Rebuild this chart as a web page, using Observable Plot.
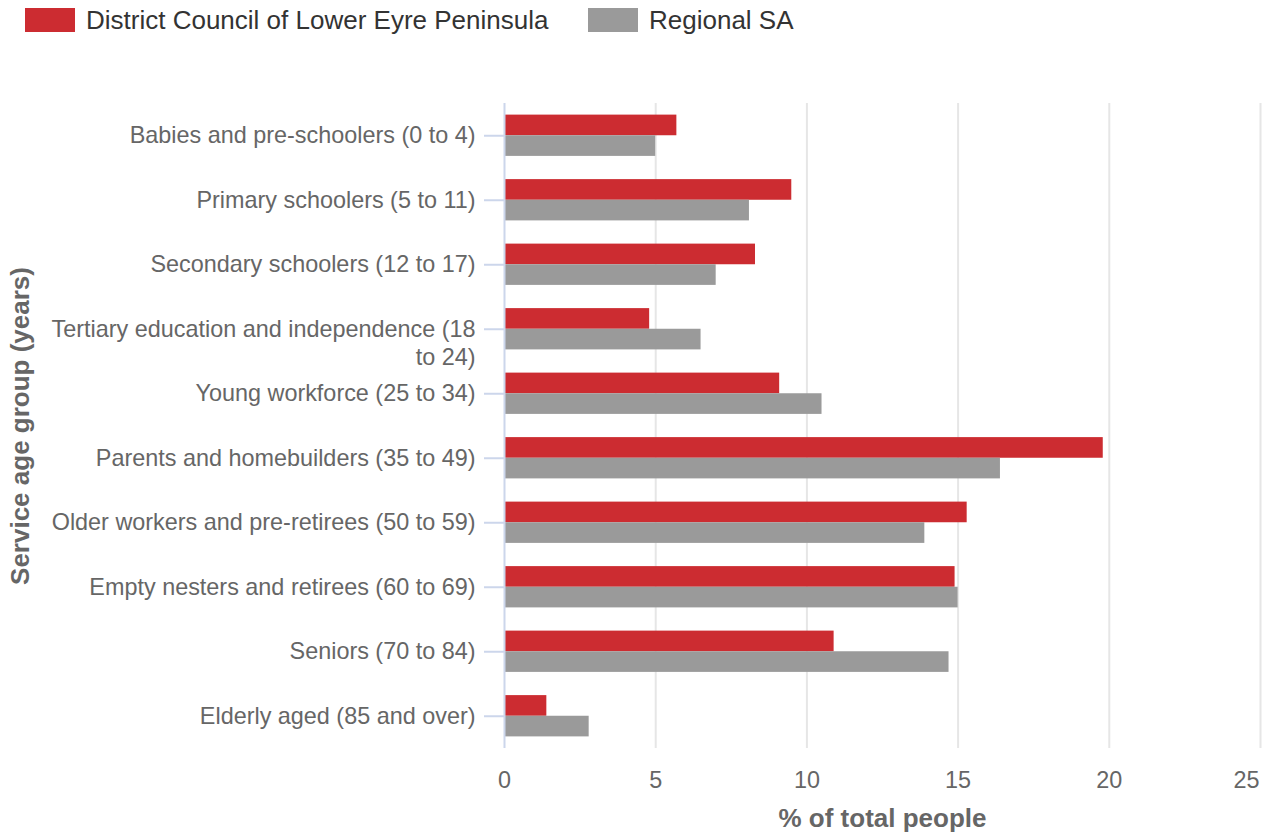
<!DOCTYPE html>
<html>
<head>
<meta charset="utf-8">
<script src="https://cdn.jsdelivr.net/npm/d3@7"></script>
<script src="https://cdn.jsdelivr.net/npm/@observablehq/plot@0.6"></script>
<style>
  html, body { margin: 0; padding: 0; background: #fff; }
  body { width: 1270px; height: 836px; overflow: hidden; font-family: "Liberation Sans", Arial, sans-serif; }
  #legend { position: relative; height: 45px; }
  .item { position: absolute; top: 0; display: flex; align-items: center; height: 40px; font-size: 26px; color: #333; }
  .swatch { width: 50px; height: 24px; margin-right: 11px; }
  #chart svg { display: block; }
</style>
</head>
<body>
<div id="legend"></div>
<div id="chart"></div>
<script>
const categories = [
  "Babies and pre-schoolers (0 to 4)",
  "Primary schoolers (5 to 11)",
  "Secondary schoolers (12 to 17)",
  "Tertiary education and independence (18 to 24)",
  "Young workforce (25 to 34)",
  "Parents and homebuilders (35 to 49)",
  "Older workers and pre-retirees (50 to 59)",
  "Empty nesters and retirees (60 to 69)",
  "Seniors (70 to 84)",
  "Elderly aged (85 and over)"
];
const seriesNames = ["District Council of Lower Eyre Peninsula", "Regional SA"];
const district = [5.7, 9.5, 8.3, 4.8, 9.1, 19.8, 15.3, 14.9, 10.9, 1.4];
const regional = [5.0, 8.1, 7.0, 6.5, 10.5, 16.4, 13.9, 15.0, 14.7, 2.8];
const xTicks = [0, 5, 10, 15, 20, 25];
const seriesColors = ["#cc2c31", "#9a9a9a"];
const xTitle = "% of total people";
const yTitle = "Service age group (years)";

// legend
const legend = document.getElementById("legend");
const legendLeft = [25, 588];
seriesNames.forEach((name, i) => {
  const item = document.createElement("div");
  item.className = "item";
  item.style.left = legendLeft[i] + "px";
  const sw = document.createElement("div");
  sw.className = "swatch";
  sw.style.background = seriesColors[i];
  const label = document.createElement("span");
  label.textContent = name;
  item.appendChild(sw);
  item.appendChild(label);
  legend.appendChild(item);
});

const rows = categories.map((c, i) => ({cat: c, d: district[i], r: regional[i]}));

const W = 1270, H = 791, mT = 58, mB = 88, mL = 504, mR = 10;
const pInner = 0.36, pOuter = 0.18;
const step = (H - mT - mB) / (categories.length - pInner + 2 * pOuter);
const half = step * (1 - pInner) / 2;

const wrap = (s) => s === "Tertiary education and independence (18 to 24)"
  ? "Tertiary education and independence (18\nto 24)" : s;

const lastTick = xTicks[xTicks.length - 1];

const chart = Plot.plot({
  width: W, height: H,
  marginTop: mT, marginBottom: mB, marginLeft: mL, marginRight: mR,
  style: {fontFamily: "'Liberation Sans', Arial, sans-serif", fontSize: "23px", color: "#666", background: "#fff"},
  x: {domain: [0, lastTick]},
  y: {domain: categories, paddingInner: pInner, paddingOuter: pOuter, align: 0.5, round: false},
  marks: [
    Plot.gridX(xTicks.filter(t => t > 0), {stroke: "#e6e6e6", strokeOpacity: 1, strokeWidth: 2}),
    Plot.barX(rows, {y: "cat", x: "d", fill: seriesColors[0], insetBottom: half, insetTop: 0}),
    Plot.barX(rows, {y: "cat", x: "r", fill: seriesColors[1], insetTop: half, insetBottom: 0}),
    Plot.ruleX([0], {stroke: "#ccd6eb", strokeWidth: 2}),
    Plot.axisY({tickSize: 20, tickFormat: () => "", stroke: "#ccd6eb", strokeWidth: 2, strokeOpacity: 1, label: null}),
    Plot.axisY({tickSize: 0, tickPadding: 29, tickFormat: wrap, fill: "#666", fontSize: 23.4,
      lineAnchor: "top", lineHeight: 1.2, dy: -12.5, label: null}),
    Plot.axisX({ticks: xTicks.filter(t => t !== lastTick), tickSize: 0, tickPadding: 23, fill: "#666", fontSize: 23.4, label: null}),
    Plot.axisX({ticks: [lastTick], tickSize: 0, tickPadding: 23, fill: "#666", fontSize: 23.4, textAnchor: "end", dx: -1, label: null}),
    Plot.text([xTitle], {frameAnchor: "bottom", dy: 78, text: d => d, fontSize: 26, fontWeight: "bold", fill: "#666"}),
    Plot.text([yTitle], {frameAnchor: "left", dx: -484, rotate: -90, textAnchor: "middle", text: d => d, fontSize: 26, fontWeight: "bold", fill: "#666"})
  ]
});
document.getElementById("chart").appendChild(chart);
</script>
</body>
</html>
